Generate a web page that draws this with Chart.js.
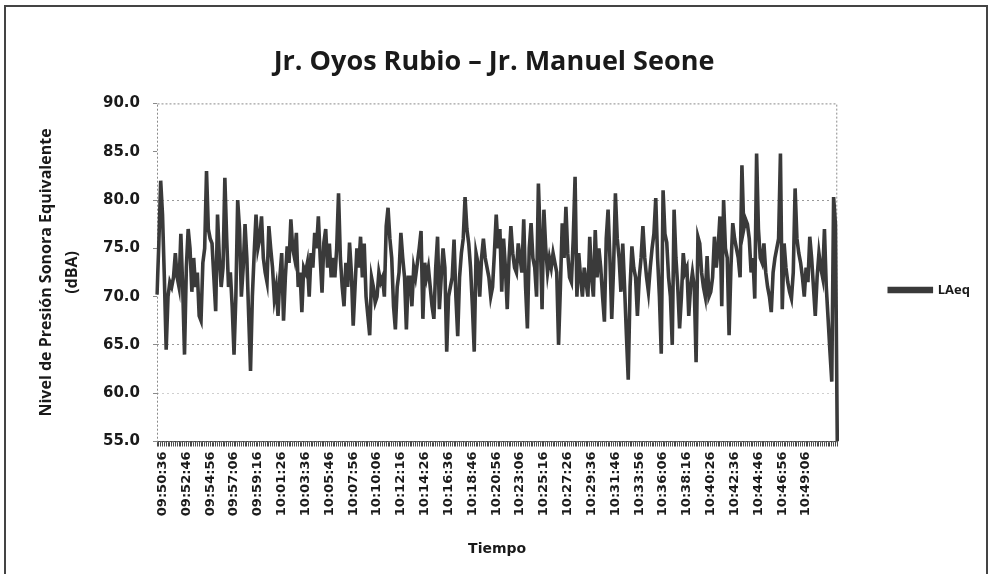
<!DOCTYPE html>
<html>
<head>
<meta charset="utf-8">
<script src="https://cdn.jsdelivr.net/npm/chart.js@4.4.1/dist/chart.umd.min.js"></script>
<style>
  html, body { margin: 0; padding: 0; background: #fff; }
  #wrap { position: relative; width: 996px; height: 574px; overflow: hidden; }
  #frame { position: absolute; left: 4px; top: 5px; width: 984px; height: 600px; border: 2px solid #444; box-sizing: border-box; pointer-events: none; }
  canvas { position: absolute; left: 0; top: 0; }
</style>
</head>
<body>
<div id="wrap">
  <canvas id="c" width="996" height="574"></canvas>
  <div id="frame"></div>
</div>
<script>
const chartTitle = 'Jr. Oyos Rubio \u2013 Jr. Manuel Seone';
const yTitle = ['Nivel de Presión Sonora Equivalente', '(dBA)'];
const xTitle = 'Tiempo';
const seriesName = 'LAeq';

const tickLabels = ['09:50:36','09:52:46','09:54:56','09:57:06','09:59:16','10:01:26','10:03:36','10:05:46',
  '10:07:56','10:10:06','10:12:16','10:14:26','10:16:36','10:18:46','10:20:56','10:23:06','10:25:16',
  '10:27:26','10:29:36','10:31:46','10:33:56','10:36:06','10:38:16','10:40:26','10:42:36','10:44:46',
  '10:46:56','10:49:06'];

const laeq = [
70.2,75.5,82,78.5,72,64.5,70,71.5,71,72,74.5,72,71,76.5,71,64,73,77,75,70.5,
74,71,72.5,68,67.5,73.5,75,83,77,76,75.5,72,68.5,78.5,74,71,73,82.3,76,71,
72.5,69,64,70,80,77,70,73,77.5,74,68,62.3,70,74.5,78.5,75,76,78.3,74,72.5,
71.5,77.3,75,73,69.8,71,68,72,74.5,67.5,72,75.2,73.5,78,75,74,76.6,71,72.5,68.4,
73,72.5,73.5,70,74.5,73,76.6,75,78.3,74,70.4,75.6,77,73,75.5,72,74,72,75,80.7,
74,71,69,73.5,71,75.6,72.5,67,71,75,73,76.2,72,75.5,70,68,66,72,71,69.4,
70,72.5,71.5,72,70,77.3,79.2,76,74,69,66.6,71,72.5,76.6,74,72,66.6,72,72,69,
73,72,73.5,75,76.8,67.7,73.5,72,73,71,69,67.7,73,76.2,68.7,72,75,73,64.3,70,
71,72,75.9,70,65.9,72,74.5,76,80.3,77,75.5,73,69,64.3,74.5,73.5,70,74,76,74,
73,72,70,71,74.5,78.5,75,77,70.5,76,73,68.7,74,77.3,74.5,73,72.5,75.5,74,72.5,
78,71,66.7,75,77.6,74,73,70,81.7,76,68.7,79,75,72.5,74,73,74.5,73.5,72.5,65,
71,77.6,74,79.3,74.5,72,71.5,76,82.4,70,74.5,72,70,73,71.5,70,76.2,72,70,76.9,
72,75,73,70,67.4,76,79,74,67.7,73,80.7,76,74,70.5,75.5,71,66,61.4,71,75.2,
73,72,68,72,74,77.3,74,72,70.5,73,75,76.5,80.2,74,70,64.1,81,76.5,75.6,72,
70,65,79,74,71,66.7,70,74.5,72.5,73,68,71,72.5,71,63.2,76.2,75.5,72.5,71,70,
74.2,70,70.5,72,76.2,73,75,78.3,69,80,75,74,66,73,77.6,76,75,74,72,83.6,
77,78,77.5,76,72.5,74,69.8,84.8,77,74,73.5,75.5,72.5,71,70,68.4,72.5,74,75,76,
84.8,68.7,75.5,73,71.5,70.5,69.8,72.5,81.2,76,74.5,73.5,72,70,73,71.5,76.2,74,71,68,
72,74.5,73,72,77,71,67.7,64.3,61.2,80.3,77.5,55
];

const yMin = 55, yMax = 90, yStep = 5;
const labelOffset = 3, labelEvery = 13;

const categories = laeq.map((_, i) => {
  const k = (i - labelOffset) / labelEvery;
  return (i >= labelOffset && Number.isInteger(k) && k < tickLabels.length) ? tickLabels[k] : '';
});

const plotFrame = {
  id: 'plotFrame',
  beforeDatasetsDraw(chart) {
    const {ctx, chartArea: a} = chart;
    ctx.save();
    ctx.strokeStyle = '#8a8a8a';
    ctx.lineWidth = 1;
    ctx.setLineDash([2, 2]);
    ctx.strokeRect(a.left + 0.5, a.top + 0.5, a.right - a.left - 1, a.bottom - a.top);
    ctx.restore();
  }
};

const gridColor = (ctx) => {
  const v = ctx.tick && ctx.tick.value;
  if (v === 80 || v === 65) return '#9a9a9a';
  if (v === 60) return '#cfcfcf';
  return 'rgba(0,0,0,0)';
};

new Chart(document.getElementById('c'), {
  type: 'line',
  data: {
    labels: categories,
    datasets: [{
      label: seriesName,
      data: laeq,
      borderColor: '#3a3a3a',
      backgroundColor: '#3a3a3a',
      borderWidth: 3.6,
      pointRadius: 0,
      tension: 0,
      borderJoinStyle: 'miter'
    }]
  },
  plugins: [plotFrame],
  options: {
    responsive: false,
    animation: false,
    layout: { padding: { left: 8, right: 16, top: 0, bottom: 12 } },
    plugins: {
      title: {
        display: true,
        text: chartTitle,
        color: '#1a1a1a',
        font: { family: 'Open Sans', size: 27, weight: 'bold', lineHeight: 1.2 },
        padding: { top: 46, bottom: 25 }
      },
      legend: {
        display: true,
        position: 'right',
        title: { display: true, text: ' ', font: { size: 10, lineHeight: 1.2 }, padding: { top: 0, bottom: 6 } },
        labels: {
          boxWidth: 42,
          boxHeight: 3,
          padding: 52,
          color: '#1a1a1a',
          font: { family: 'Open Sans', size: 13, weight: 'bold' }
        }
      },
      tooltip: { enabled: false }
    },
    scales: {
      x: {
        type: 'category',
        offset: false,
        grid: { display: true, drawOnChartArea: false, drawTicks: true, tickLength: 5, tickColor: '#4a4a4a', lineWidth: 1 },
        border: { display: true, color: '#4a4a4a', width: 1 },
        ticks: {
          autoSkip: false,
          maxRotation: 90,
          minRotation: 90,
          padding: 5,
          color: '#1a1a1a',
          font: { family: 'DejaVu Sans', size: 13, weight: 'bold' }
        },
        title: {
          display: true,
          text: xTitle,
          color: '#1a1a1a',
          font: { family: 'DejaVu Sans', size: 14, weight: 'bold', lineHeight: 1.2 },
          padding: { top: 20, bottom: 4 }
        }
      },
      y: {
        min: yMin,
        max: yMax,
        grid: { display: true, color: gridColor, drawTicks: true, tickLength: 4, tickColor: '#8a8a8a', lineWidth: 1 },
        border: { display: false, dash: [2, 3] },
        ticks: {
          stepSize: yStep,
          padding: 13,
          color: '#1a1a1a',
          font: { family: 'DejaVu Sans', size: 15, weight: 'bold' },
          callback: (v) => Number(v).toFixed(1)
        },
        title: {
          display: true,
          text: yTitle,
          color: '#1a1a1a',
          font: { family: 'Open Sans', size: 16, weight: 'bold', lineHeight: 1.625 },
          padding: { top: 25, bottom: 5 }
        }
      }
    }
  }
});
</script>
</body>
</html>
